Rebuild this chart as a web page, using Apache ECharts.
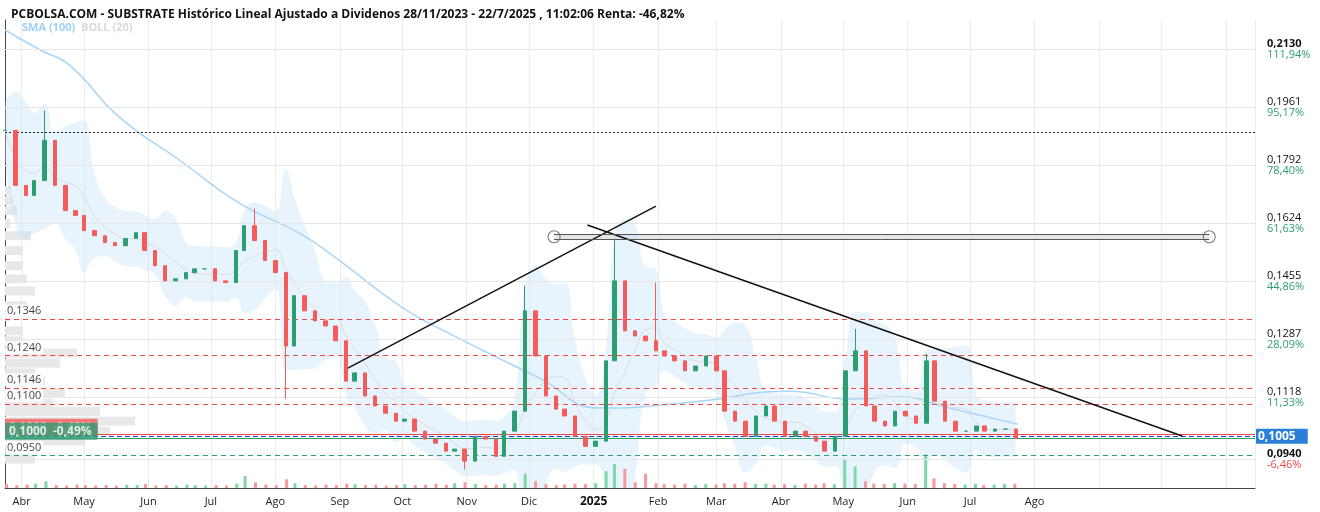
<!DOCTYPE html>
<html><head><meta charset="utf-8">
<script src="https://cdn.jsdelivr.net/npm/echarts@6/dist/echarts.min.js"></script>
<style>html,body{margin:0;padding:0;background:#fff}#c{width:1320px;height:512px}</style>
</head><body><div id="c"></div>
<script>
// ---- data ----
const startDate = '2024-03-24';
const stepDays = 4.81;
const closes = [0.1894,0.1734,0.1705,0.1748,0.1865,0.1734,0.1661,0.1647,0.1603,0.1588,
0.1568,0.1559,0.1580,0.1597,0.1545,0.1501,0.1457,0.1463,0.1481,0.1492,
0.1492,0.1457,0.1452,0.1545,0.1617,0.1574,0.1516,0.1481,0.1268,0.1414,
0.1370,0.1341,0.1326,0.1283,0.1166,0.1190,0.1123,0.1094,0.1073,0.1050,
0.1056,0.1021,0.0998,0.0986,0.0963,0.0969,0.0934,0.1006,0.0998,0.0948,
0.1021,0.1079,0.1370,0.1239,0.1123,0.1085,0.1065,0.1006,0.0977,0.0992,
0.1225,0.1457,0.1312,0.1297,0.1283,0.1254,0.1239,0.1225,0.1196,0.1210,
0.1239,0.1196,0.1079,0.1050,0.1006,0.1065,0.1094,0.1050,0.1006,0.1021,
0.1006,0.0992,0.0963,0.1006,0.1196,0.1254,0.1094,0.1050,0.1036,0.1079,
0.1065,0.1044,0.1225,0.1108,0.1050,0.1021,0.1021,0.1036,0.1021,0.1027,
0.1027,0.1000];
const highOverride = {4:0.1952,25:0.1667,52:0.1443,61:0.1580,65:0.1452,85:0.1318,92:0.1245};
const lowOverride = {28:0.1115,46:0.0910};
const volumes = [8,6,7,9,14,6,5,7,6,5,
6,5,7,6,8,5,6,5,7,6,
5,6,5,9,25,12,7,6,18,10,
6,5,7,6,9,8,6,7,5,6,
8,6,7,9,7,10,12,8,6,7,
9,10,30,14,8,6,7,9,8,10,
35,50,40,12,30,10,8,7,9,6,
8,7,10,9,12,8,9,7,8,6,
9,7,10,8,60,45,14,9,8,10,
9,8,70,20,10,8,7,9,6,7,
8,9];
const smaDates = ['2024-03-24','2024-04-10','2024-04-24','2024-05-18','2024-06-16','2024-07-15','2024-08-13','2024-09-01','2024-09-30','2024-10-24','2024-12-06','2025-01-04','2025-02-21','2025-04-05','2025-05-04','2025-05-28','2025-06-21','2025-07-24'];
const smaValues = [0.2185,0.2127,0.2083,0.1932,0.1807,0.1681,0.1594,0.1515,0.1384,0.1303,0.1175,0.1088,0.1108,0.1137,0.1114,0.1120,0.1088,0.1041];
const profilePrices = [0.1719,0.1690,0.1661,0.1623,0.1588,0.1545,0.1501,0.1463,0.1428,0.1385,0.1353,0.1312,0.1283,0.1248,0.1219,0.1190,0.1166,0.1131,0.1102,0.1079,0.1050,0.1021,0.0992,0.0940];
const profileWidths = [6,8,12,5,26,18,18,22,30,22,5,18,18,72,55,30,40,60,48,95,130,105,80,30];
const tickPrices = [0.2130,0.1961,0.1792,0.1624,0.1455,0.1287,0.1118,0.0940];
const tickLabels = ['0,2130','0,1961','0,1792','0,1624','0,1455','0,1287','0,1118','0,0940'];
const tickPct = ['111,94%','95,17%','78,40%','61,63%','44,86%','28,09%','11,33%','-6,46%'];
const levelPrices = [0.1346,0.1240,0.1146,0.1100,0.0950];
const levelLabels = ['0,1346','0,1240','0,1146','0,1100','0,0950'];
const monthNames = ['Ene','Feb','Mar','Abr','May','Jun','Jul','Ago','Sep','Oct','Nov','Dic'];

// ---- build ----
const DAY = 86400000;
const T = s => +new Date(s + 'T00:00:00');
const t0 = T(startDate);
const dates = closes.map((_, i) => t0 + Math.round(i * stepDays) * DAY);
const candles = closes.map((c, i) => {
  const o = i === 0 ? c : closes[i - 1];
  const hi = highOverride[i] !== undefined ? highOverride[i] : Math.max(o, c);
  const lo = lowOverride[i] !== undefined ? lowOverride[i] : Math.min(o, c);
  return [dates[i], o, c, lo, hi];
});
const vol = volumes.map((v, i) => ({value: [dates[i], v], itemStyle: {color: (i > 0 && closes[i] >= closes[i-1]) ? '#7fd8a8' : '#f59a9a'}}));
const W = 5;
const mid = [], lower = [], band = [];
closes.forEach((c, i) => {
  const s = closes.slice(Math.max(0, i - W + 1), i + 1);
  const m = s.reduce((a, b) => a + b, 0) / s.length;
  const sd = Math.sqrt(s.reduce((a, b) => a + (b - m) * (b - m), 0) / s.length);
  const dev = Math.max(2.4 * sd, 0.008);
  mid.push([dates[i], m]); lower.push([dates[i], m - dev]); band.push([dates[i], 2 * dev]);
});
const sma = smaDates.map((d, i) => [T(d), smaValues[i]]);
const xMin = T('2024-03-24'), xMax = T('2025-11-15'), lastLabel = T('2025-08-15');

const markLines = [];
tickPrices.forEach((p, i) => markLines.push({yAxis: p, lineStyle: {color: '#e6e6e6', type: 'solid', width: 1},
  label: {show: true, position: 'end', distance: 12, formatter: '{' + ((i === 0 || i === 7) ? 'ab' : 'a') + '|' + tickLabels[i] + '}\n{' + (i === 7 ? 'r' : 'b') + '|' + tickPct[i] + '}',
    rich: {a: {fontSize: 11, color: '#111', lineHeight: 11}, ab: {fontSize: 11, color: '#111', fontWeight: 'bold', lineHeight: 11}, b: {fontSize: 11, color: '#2e9e72', lineHeight: 11}, r: {fontSize: 11, color: '#f04848', lineHeight: 11}}}}));
levelPrices.forEach((p, i) => markLines.push({yAxis: p, lineStyle: {color: i === 4 ? '#2e9e72' : '#f04848', type: [5, 4], width: 1}, label: {show: false}}));
markLines.push({yAxis: 0.1889, lineStyle: {color: '#222', type: [2, 2], width: 1}, label: {show: false}});
markLines.push({yAxis: 0.1012, lineStyle: {color: '#f04848', type: 'solid', width: 1.2}, label: {show: false}});
markLines.push({yAxis: 0.1000, lineStyle: {color: '#2e9e72', type: 'solid', width: 1.2}, label: {show: false}});
markLines.push({yAxis: 0.1006, lineStyle: {color: '#1b3fe0', type: [5, 3], width: 1.2},
  label: {show: true, position: 'end', distance: 1, formatter: '0,1005', color: '#fff', fontSize: 12, fontWeight: 'bold', backgroundColor: '#2a7fd8', padding: [2, 12, 1, 2]}});
markLines.push([{coord: [T('2024-09-03'), 0.1198]}, {coord: [T('2025-01-31'), 0.1674]}]);
markLines.push([{coord: [T('2024-12-29'), 0.1619]}, {coord: [T('2025-10-11'), 0.1007]}]);
markLines.push([{coord: [T('2024-12-13'), 0.1593], lineStyle: {color: '#555', width: 1}}, {coord: [T('2025-10-24'), 0.1593]}]);
markLines.push([{coord: [T('2024-12-13'), 0.1578], lineStyle: {color: '#555', width: 1}}, {coord: [T('2025-10-24'), 0.1578]}]);

const levelTexts = levelPrices.map((p, i) => ({value: [xMin, p], label: {formatter: levelLabels[i]}}));

const chart = echarts.init(document.getElementById('c'));
chart.setOption({
  animation: false,
  backgroundColor: '#fff',
  textStyle: {fontFamily: 'Open Sans'},
  title: {text: 'PCBOLSA.COM - SUBSTRATE Histórico Lineal Ajustado a Dividenos 28/11/2023 - 22/7/2025 , 11:02:06 Renta: -46,82%', left: 6, top: 4,
    textStyle: {fontSize: 12, fontWeight: 'bold', color: '#111', fontFamily: 'Open Sans'}},
  graphic: [{type: 'text', left: 22, top: 22, style: {text: 'SMA (100)', fill: '#9fd0f5', font: 'bold 11px Open Sans'}},
            {type: 'text', left: 81, top: 22, style: {text: 'BOLL (20)', fill: '#d9d9d9', font: 'bold 11px Open Sans'}}],
  grid: [{left: 5, right: 65, top: 20, bottom: 24, outerBoundsMode: 'none', containLabel: false},
         {left: 5, right: 65, top: 440, bottom: 24, outerBoundsMode: 'none', containLabel: false}],
  xAxis: [
    {type: 'time', gridIndex: 0, min: xMin, max: xMax, splitNumber: 20,
     axisLine: {lineStyle: {color: '#444'}}, axisTick: {show: false},
     splitLine: {show: true, lineStyle: {color: '#ececec'}},
     axisLabel: {color: '#222', fontSize: 11, hideOverlap: false, formatter: v => {const d = new Date(v); if (v > lastLabel) return ''; return d.getMonth() === 0 ? '{y|' + d.getFullYear() + '}' : monthNames[d.getMonth()];}, rich: {y: {fontWeight: 'bold', fontSize: 12, color: '#111'}}}},
    {type: 'time', gridIndex: 1, min: xMin, max: xMax, show: false},
    {type: 'value', gridIndex: 0, min: 0, max: 1250, show: false}
  ],
  yAxis: [
    {type: 'value', gridIndex: 0, min: 0.0856, max: 0.2214, position: 'right', axisLabel: {show: false}, splitLine: {show: false}, axisLine: {show: true, lineStyle: {color: '#444'}}, axisTick: {show: false}},
    {type: 'value', gridIndex: 1, min: 0, max: 100, show: false}
  ],
  series: [
    {type: 'custom', xAxisIndex: 2, yAxisIndex: 0, z: 1, data: profilePrices.map((p, i) => [profileWidths[i], p]),
     renderItem: (params, api) => {
       const a = api.coord([0, api.value(1) + 0.0013]), b = api.coord([api.value(0), api.value(1) - 0.0013]);
       return {type: 'rect', shape: {x: a[0], y: a[1], width: b[0] - a[0], height: b[1] - a[1]}, style: {fill: '#e8e8e8'}};
     }},
    {type: 'line', data: lower, stack: 'b', symbol: 'none', lineStyle: {width: 0}, smooth: true, z: 2},
    {type: 'line', data: band, stack: 'b', symbol: 'none', lineStyle: {width: 0}, areaStyle: {color: 'rgba(190,225,248,0.5)'}, smooth: true, z: 2},
    {type: 'line', data: mid, symbol: 'none', lineStyle: {width: 1, color: '#dcdcdc'}, smooth: true, z: 3},
    {type: 'line', data: sma, symbol: 'none', lineStyle: {width: 1.5, color: '#a9d6f7'}, smooth: true, z: 3},
    {type: 'candlestick', data: candles, barWidth: 4, z: 5,
     itemStyle: {color: '#2e9e72', color0: '#f45b5b', borderColor: '#2e9e72', borderColor0: '#f45b5b'},
     markLine: {symbol: 'none', silent: true, animation: false, precision: 5, lineStyle: {color: '#111', width: 1.5, type: 'solid'}, label: {show: false}, data: markLines},
     markArea: {silent: true, precision: 5, itemStyle: {color: '#e6e6e6'}, data: [[{coord: [T('2024-12-13'), 0.1593]}, {coord: [T('2025-10-24'), 0.1578]}]]}},
    {type: 'scatter', data: [[T('2024-12-13'), 0.1585], [T('2025-10-24'), 0.1585]], symbol: 'circle', symbolSize: 12, z: 6,
     itemStyle: {color: 'rgba(255,255,255,0)', borderColor: '#666', borderWidth: 1.2}},
    {type: 'scatter', data: levelTexts, symbolSize: 0, z: 7, silent: true,
     label: {show: true, position: 'right', distance: 0, offset: [0, -8], color: '#111', fontSize: 11, backgroundColor: '#fff', padding: [1, 2]}},
    {type: 'scatter', data: [[xMin, 0.1000]], symbolSize: 0, z: 7, silent: true,
     label: {show: true, position: 'right', distance: 0, offset: [0, -11], formatter: '0,1000  -0,49%', color: '#fff', fontSize: 12, fontWeight: 'bold', backgroundColor: '#f45b5b', padding: [3, 6, 2, 4]}},
    {type: 'scatter', data: [[xMin, 0.1000]], symbolSize: 0, z: 8, silent: true,
     label: {show: true, position: 'right', distance: 0, offset: [0, -7], formatter: '0,1000  -0,49%', color: '#fff', fontSize: 12, fontWeight: 'bold', backgroundColor: '#2e9e72', padding: [3, 6, 2, 4]}},
    {type: 'bar', xAxisIndex: 1, yAxisIndex: 1, data: vol, barWidth: 3}
  ]
});
</script></body></html>
